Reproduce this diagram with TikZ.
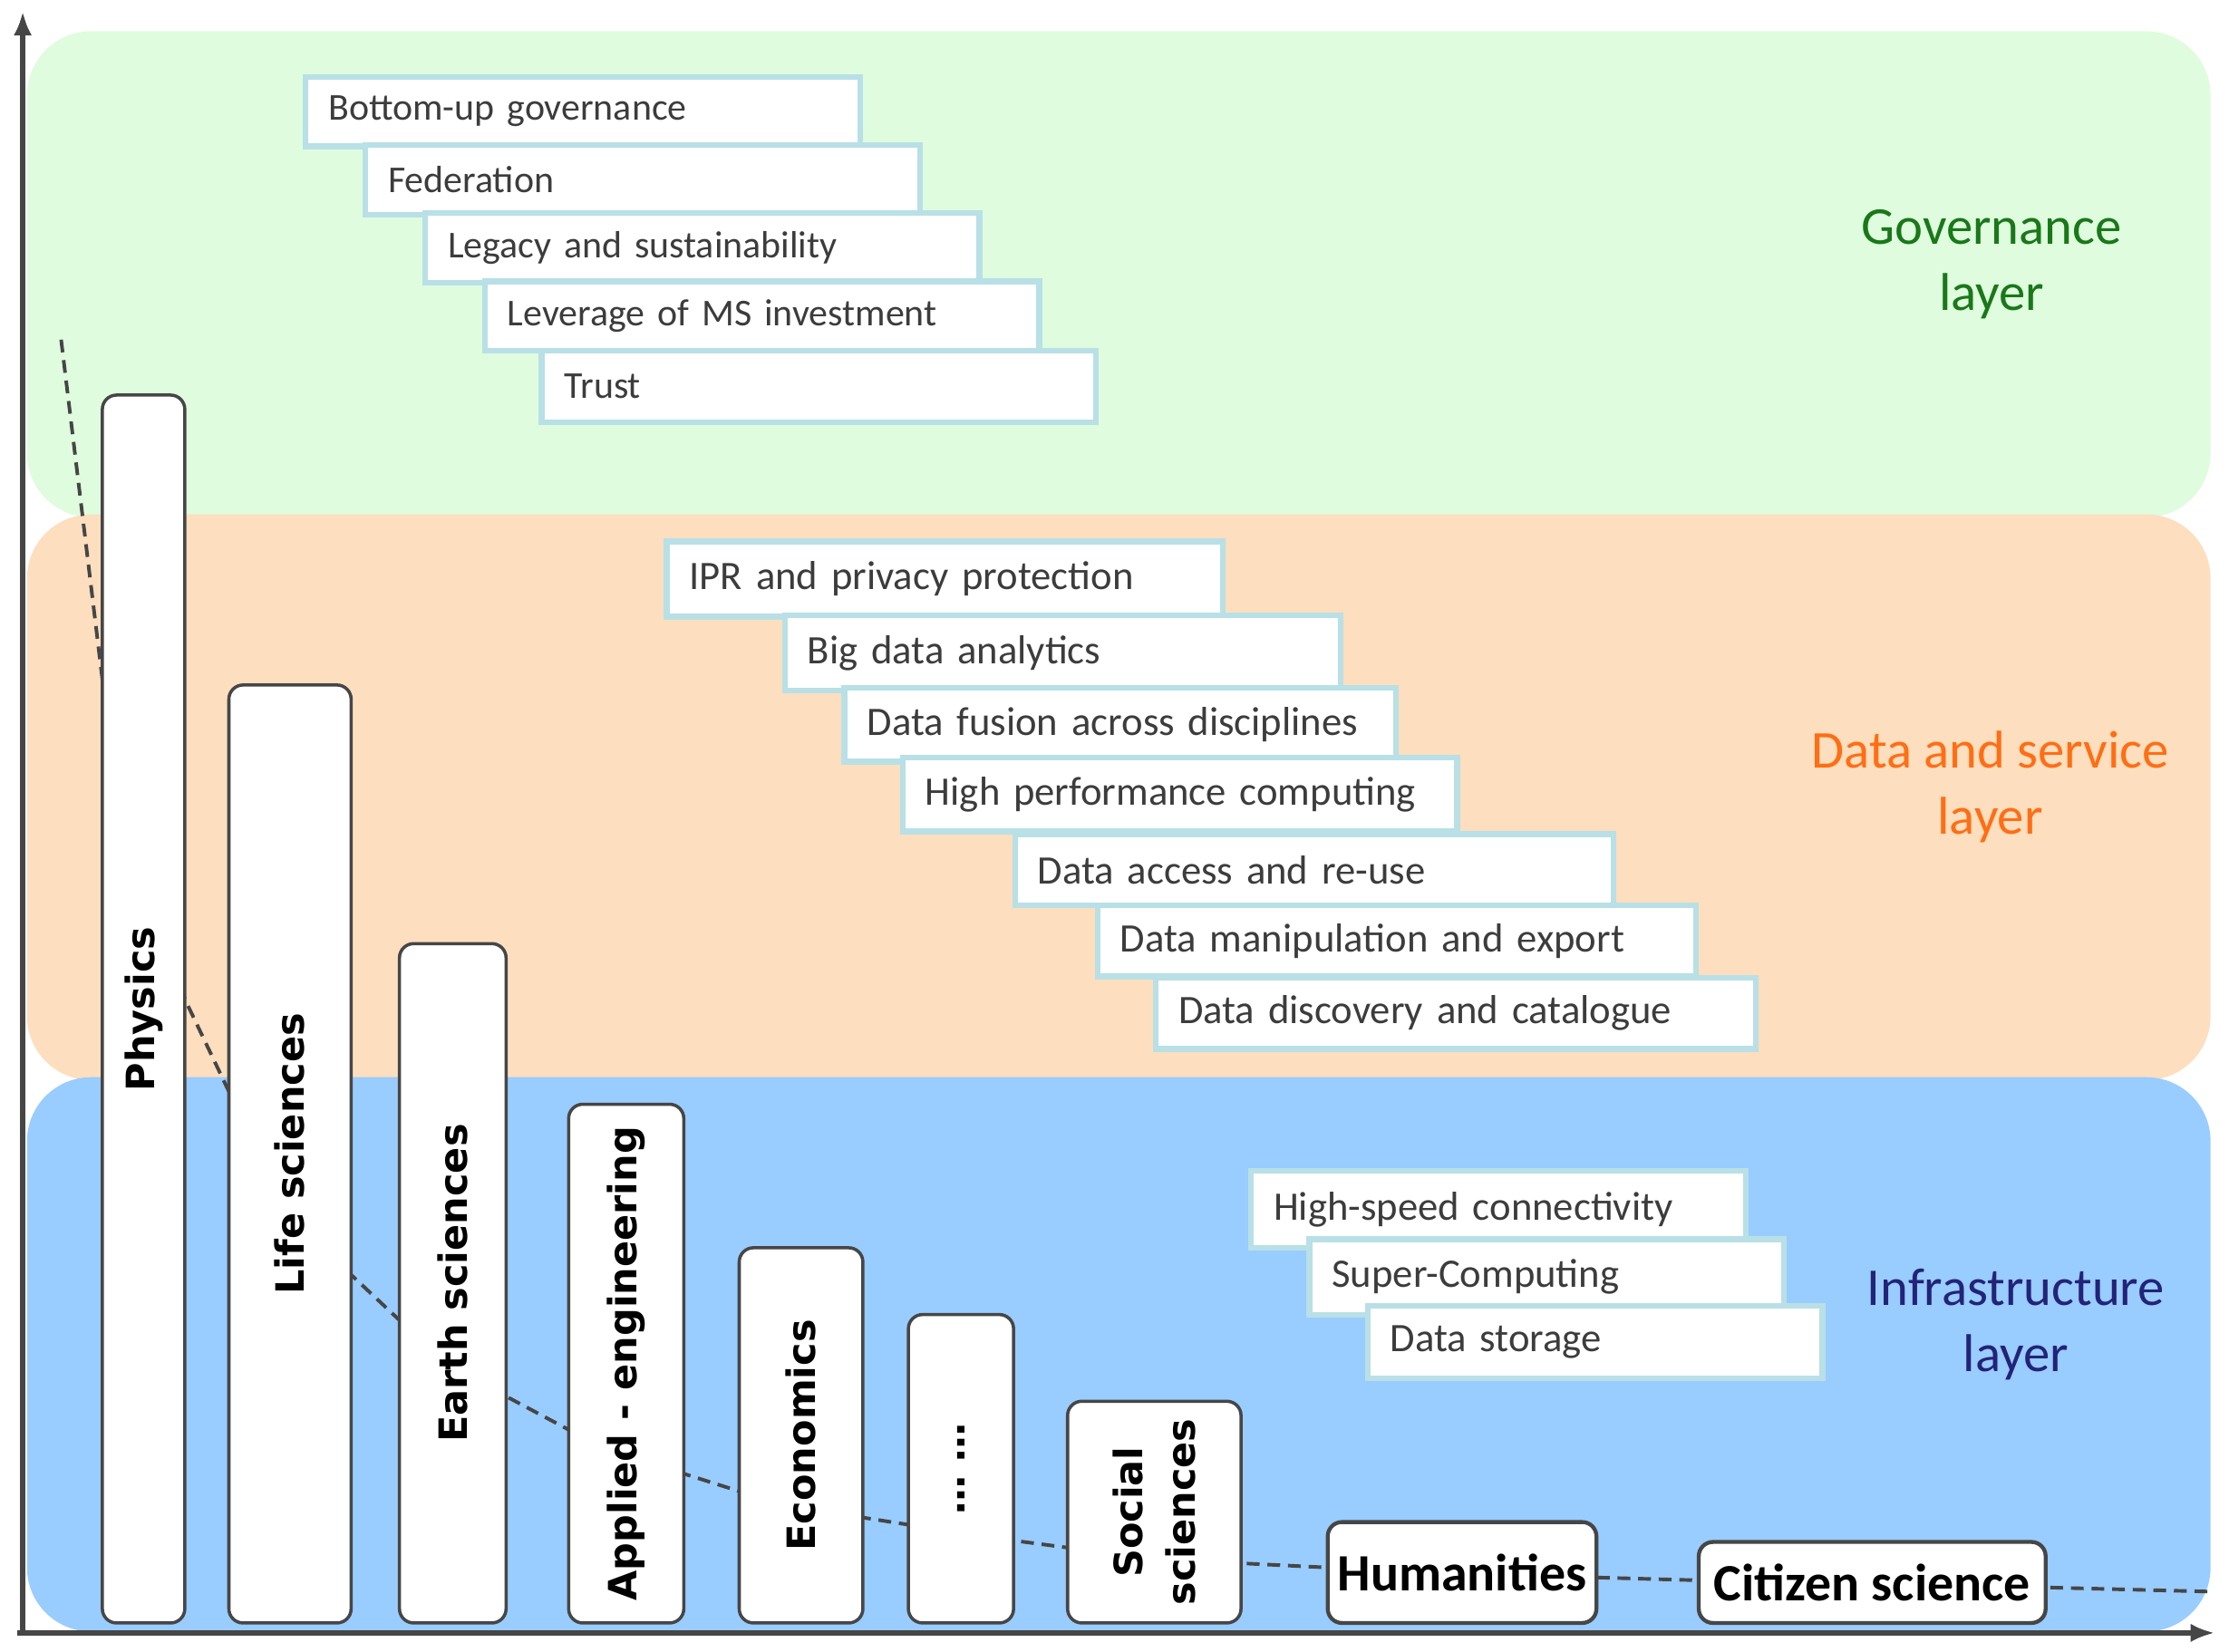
\documentclass[tikz,border=0pt]{standalone}
\usepackage{fontspec}
\setmainfont{Carlito}
\newfontfamily\barfont{DejaVu Sans}
\usetikzlibrary{arrows.meta}
\definecolor{greenL}{RGB}{224,252,222}
\definecolor{orangeL}{RGB}{253,222,190}
\definecolor{blueL}{RGB}{153,204,255}
\definecolor{boxB}{RGB}{184,224,230}
\definecolor{axisC}{RGB}{70,70,70}
\definecolor{textG}{RGB}{60,60,60}
\definecolor{govC}{RGB}{25,120,25}
\definecolor{dataC}{RGB}{255,110,20}
\definecolor{infC}{RGB}{35,35,120}
\begin{document}
\begin{tikzpicture}[x=0.2mm,y=-0.2mm,
  layer/.style={rounded corners=9mm},
  tbox/.style={draw=boxB, line width=0.8mm, fill=white, anchor=north west,
    inner xsep=3.2mm, inner ysep=0.5mm, align=left, text=textG},
  gtxt/.style={font=\fontsize{15.2}{18}\selectfont},
  dtxt/.style={font=\fontsize{16.2}{19}\selectfont},
  bar/.style={draw=axisC, line width=0.45mm, fill=white, rounded corners=2mm,
    inner sep=0pt, text=black, font=\barfont\bfseries\fontsize{15.6}{21}\selectfont, align=center},
  hbar/.style={draw=axisC, line width=0.55mm, fill=white, rounded corners=2mm,
    inner sep=0pt, text=black, font=\bfseries\fontsize{21}{24}\selectfont},
  lay/.style={align=center, font=\fontsize{21.3}{26.5}\selectfont},
  axis/.style={draw=axisC, line width=0.8mm, -{Latex[length=3.4mm,width=2.6mm]}},
  trend/.style={draw=axisC, line width=0.5mm, dash pattern=on 1.8mm off 1.1mm}
]
\useasboundingbox (0,0) rectangle (1568,1162);
% layers
\fill[greenL,layer] (19,22) rectangle (1555,364);
\fill[orangeL,layer] (19,362) rectangle (1555,760);
\fill[blueL,layer] (19,758) rectangle (1555,1148);
% layer labels
\node[lay,text=govC] (govl) at (1401,186) {Governance\\layer};
\node[lay,text=dataC] (datal) at (1400,554) {Data and service\\layer};
\node[lay,text=infC] (infl) at (1418,932) {Infrastructure\\layer};
% governance boxes
\node[tbox,gtxt,text width=71.6mm,minimum height=9.8mm] (g1) at (213,52) {Bottom-up governance};
\node[tbox,gtxt,text width=71.6mm,minimum height=9.8mm] (g2) at (255,100) {Federation};
\node[tbox,gtxt,text width=71.6mm,minimum height=9.8mm] (g3) at (297,148) {Legacy and sustainability};
\node[tbox,gtxt,text width=71.6mm,minimum height=9.8mm] (g4) at (339,196) {Leverage of MS investment};
\node[tbox,gtxt,text width=71.6mm,minimum height=10mm] (g5) at (379,245) {Trust};
% data boxes
\node[tbox,dtxt,text width=71.8mm,minimum height=10.6mm] (d1) at (467,379) {IPR and privacy protection};
\node[tbox,dtxt,text width=71.8mm,minimum height=10.6mm] (d2) at (550,431) {Big data analytics};
\node[tbox,dtxt,text width=71.2mm,minimum height=10.4mm] (d3) at (592,482) {Data fusion across disciplines};
\node[tbox,dtxt,text width=71.6mm,minimum height=10.4mm] (d4) at (633,531) {High performance computing};
\node[tbox,dtxt,text width=77.8mm,minimum height=10mm] (d5) at (712,585) {Data access and re-use};
\node[tbox,dtxt,text width=77.8mm,minimum height=10mm] (d6) at (770,635) {Data manipulation and export};
\node[tbox,dtxt,text width=78mm,minimum height=10mm] (d7) at (811,686) {Data discovery and catalogue};
% infrastructure boxes
\node[tbox,dtxt,text width=63.2mm,minimum height=10.8mm] (i1) at (878,822) {High-speed connectivity};
\node[tbox,dtxt,text width=60.4mm,minimum height=10.6mm] (i2) at (919,870) {Super-Computing};
\node[tbox,dtxt,text width=57.6mm,minimum height=10.2mm] (i3) at (960,917) {Data storage};
% trend curve (behind bars)
\draw[trend] (43,239) -- (72,478) -- (130,703) -- (161,768) -- (247,897) -- (280,928)
  -- (355,982) -- (400,1006) -- (481,1037) -- (519,1049) -- (608,1068) -- (640,1073)
  -- (713,1084) -- (751,1089) -- (873,1100) -- (934,1103) -- (1123,1110) -- (1195,1112)
  -- (1439,1117) -- (1557,1120);
% discipline bars
\node[bar,rotate=90,minimum width=172.8mm,minimum height=11.6mm] (phys) at (101,710) {Physics};
\node[bar,rotate=90,minimum width=132mm,minimum height=17.2mm] (life) at (204,812) {Life sciences};
\node[bar,rotate=90,minimum width=95.6mm,minimum height=15mm] (earth) at (318.5,903) {Earth sciences};
\node[bar,rotate=90,minimum width=73mm,minimum height=16.2mm] (appl) at (440.5,959.5) {Applied - engineering};
\node[bar,rotate=90,minimum width=52.8mm,minimum height=17.4mm] (econ) at (563.5,1010) {Economics};
\node[bar,rotate=90,minimum width=43.4mm,minimum height=14.8mm] (dots) at (676,1033.5) {… …};
\node[bar,rotate=90,minimum width=31.2mm,minimum height=24.4mm] (soc) at (812,1064) {Social\\sciences};
\node[hbar,minimum width=37.8mm,minimum height=14.2mm] (hum) at (1028.5,1106.5) {Humanities};
\node[hbar,minimum width=48.8mm,minimum height=11.4mm] (cit) at (1317,1113.5) {Citizen science};
% axes
\coordinate (O) at (16,1149);
\coordinate (ytop) at (16,8);
\coordinate (xend) at (1558,1149);
\draw[axis] (O) -- (ytop);
\draw[axis] (12,1149) -- (xend);
\end{tikzpicture}
\end{document}
